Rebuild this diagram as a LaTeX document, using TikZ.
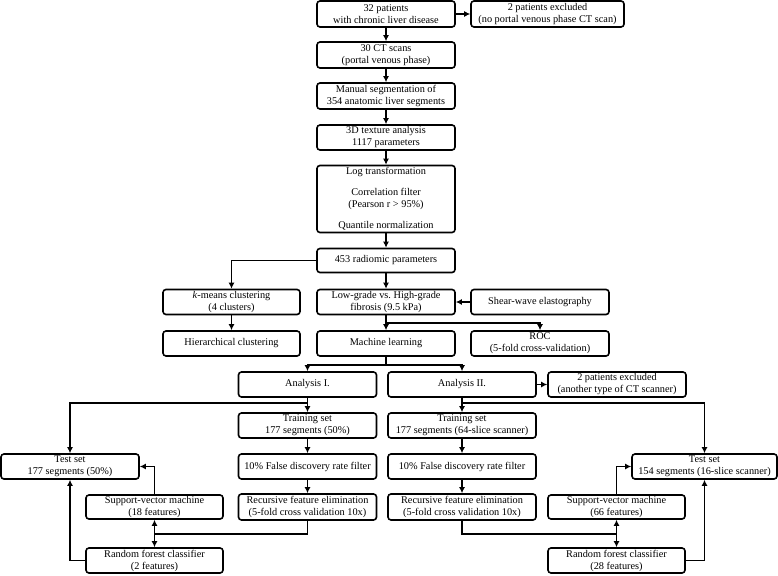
\documentclass[tikz,border=0pt]{standalone}
\usepackage{fontspec}
\setmainfont{Liberation Serif}
\usetikzlibrary{arrows.meta}

\begin{document}
\begin{tikzpicture}[x=1pt,y=-1pt,
  box/.style={draw,rounded corners=3pt,line width=1.6pt,align=center,inner sep=1pt,
    minimum width=138pt,minimum height=25pt,font=\fontsize{10.3}{12}\selectfont},
  wire/.style={line width=1.6pt},
  arr/.style={line width=1.6pt,-{Latex[length=6pt,width=6pt]}}]
\useasboundingbox (0,0) rectangle (778,575);
% draws boxes, main column
\node[box,minimum height=26pt] (p32) at (386,14) {32 patients\\with chronic liver disease};
\node[box,minimum width=153pt,minimum height=26pt] (excl1) at (547.5,14) {2 patients excluded\\(no portal venous phase CT scan)};
\node[box,minimum height=26pt] (ct30) at (386,55) {30 CT scans\\(portal venous phase)};
\node[box,minimum height=26pt] (seg) at (386,96) {Manual segmentation of\\354 anatomic liver segments};
\node[box] (tex) at (386,137.5) {3D texture analysis\\1117 parameters};
\node[box,minimum height=67pt] (prep) at (386,199) {Log transformation\\[9pt]Correlation filter\\(Pearson r > 95\%)\\[9pt]Quantile normalization};
\node[box,minimum height=24pt] (r453) at (386,260.5) {453 radiomic parameters};
% draws boxes, clustering and outcome
\node[box,minimum width=137pt] (kmeans) at (231.5,302) {\textit{k}-means clustering\\(4 clusters)};
\node[box] (lowhigh) at (386,302) {Low-grade vs.\ High-grade\\fibrosis (9.5 kPa)};
\node[box] (shear) at (540,302) {Shear-wave elastography};
\node[box,minimum width=137pt] (hier) at (231.5,343.5) {Hierarchical clustering};
\node[box] (ml) at (386,343.5) {Machine learning};
\node[box] (roc) at (540,343.5) {ROC\\(5-fold cross-validation)};
% draws boxes, analysis I
\node[box] (anI) at (307.5,384.5) {Analysis I.};
\node[box] (trI) at (307.5,425.5) {Training set\\177 segments (50\%)};
\node[box] (fdrI) at (307.5,466.5) {10\% False discovery rate filter};
\node[box,minimum height=26pt] (rfeI) at (307.5,507) {Recursive feature elimination\\(5-fold cross validation 10x)};
\node[box] (testI) at (70,466.5) {Test set\\177 segments (50\%)};
\node[box,minimum width=137pt,minimum height=24pt] (svmI) at (154.5,507) {Support-vector machine\\(18 features)};
\node[box,minimum width=137pt] (rfI) at (154.5,560.5) {Random forest classifier\\(2 features)};
% draws boxes, analysis II
\node[box,minimum width=148pt] (anII) at (462,384.5) {Analysis II.};
\node[box] (excl2) at (617,384.5) {2 patients excluded\\(another type of CT scanner)};
\node[box,minimum width=148pt] (trII) at (462,425.5) {Training set\\177 segments (64-slice scanner)};
\node[box,minimum width=148pt] (fdrII) at (462,466.5) {10\% False discovery rate filter};
\node[box,minimum width=148pt,minimum height=26pt] (rfeII) at (462,507) {Recursive feature elimination\\(5-fold cross validation 10x)};
\node[box,minimum width=145pt] (testII) at (704.5,466.5) {Test set\\154 segments (16-slice scanner)};
\node[box,minimum width=137pt,minimum height=24pt] (svmII) at (616.5,507) {Support-vector machine\\(66 features)};
\node[box,minimum width=137pt] (rfII) at (616.5,560.5) {Random forest classifier\\(28 features)};
% branch points
\coordinate (bRoc) at (386,323);
\coordinate (bMl) at (386,365);
\coordinate (bI) at (307.5,403);
\coordinate (bII) at (462,403);
\coordinate (bSelI) at (154.5,534);
\coordinate (bSelII) at (616.5,534);
% draws arrows, main column
\draw[arr] (p32.east) -- (excl1.west);
\draw[arr] (p32) -- (ct30);
\draw[arr] (ct30) -- (seg);
\draw[arr] (seg) -- (tex);
\draw[arr] (tex) -- (prep);
\draw[arr] (prep) -- (r453);
\draw[arr] (r453) -- (lowhigh);
\draw[arr] (r453.west) -| (kmeans.north);
\draw[arr] (kmeans) -- (hier);
\draw[arr] (shear.west) -- (lowhigh.east);
\draw[arr] (lowhigh) -- (ml);
\draw[arr] (bRoc) -| (roc.north);
\draw[wire] (ml.south) -- (bMl);
\draw[arr] (bMl) -| (anI.north);
\draw[arr] (bMl) -| (anII.north);
% draws arrows, analysis I
\draw[arr] (anI) -- (trI);
\draw[arr] (bI) -| (testI.north);
\draw[arr] (trI) -- (fdrI);
\draw[arr] (fdrI) -- (rfeI);
\draw[wire] (rfeI.south) |- (bSelI);
\draw[arr] (bSelI) -- (svmI.south);
\draw[arr] (bSelI) -- (rfI.north);
\draw[arr] (svmI.north) |- (testI.east);
\draw[arr] (rfI.west) -| (testI.south);
% draws arrows, analysis II
\draw[arr] (anII.east) -- (excl2.west);
\draw[arr] (anII) -- (trII);
\draw[arr] (bII) -| (testII.north);
\draw[arr] (trII) -- (fdrII);
\draw[arr] (fdrII) -- (rfeII);
\draw[wire] (rfeII.south) |- (bSelII);
\draw[arr] (bSelII) -- (svmII.south);
\draw[arr] (bSelII) -- (rfII.north);
\draw[arr] (svmII.north) |- (testII.west);
\draw[arr] (rfII.east) -| (testII.south);
\end{tikzpicture}
\end{document}
